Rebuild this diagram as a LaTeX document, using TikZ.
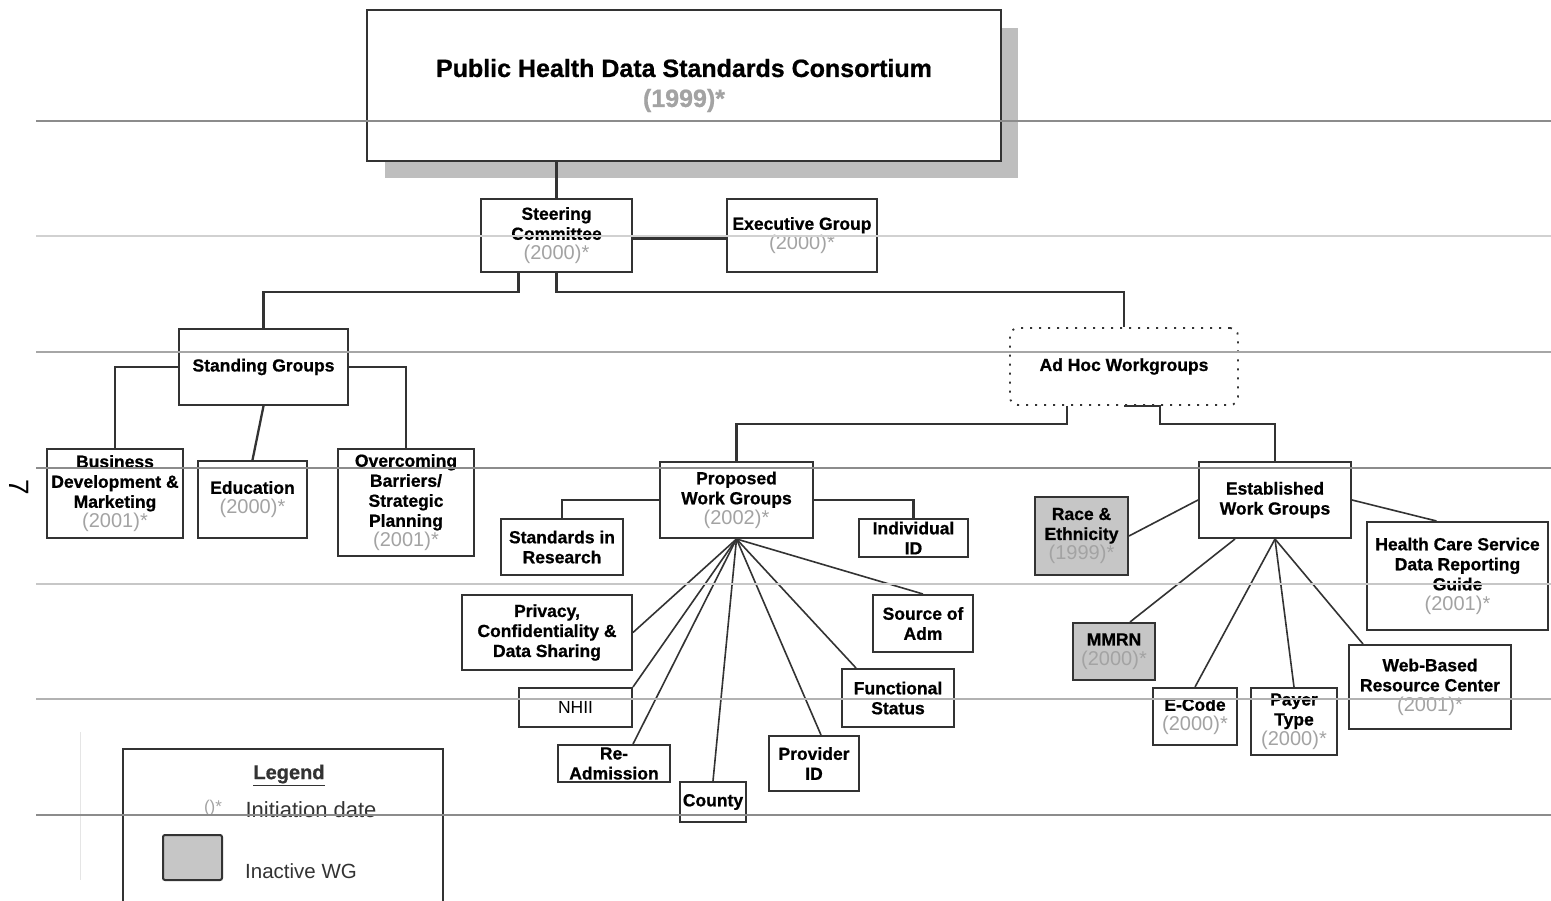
\documentclass[tikz,border=0pt]{standalone}
\usepackage{fontspec}
\setmainfont{Liberation Sans}[BoldFeatures={FakeBold=0.8}]
\usetikzlibrary{calc}
\definecolor{yrgray}{HTML}{A3A3A3}
\definecolor{linec}{HTML}{333333}
\definecolor{shadowgray}{HTML}{BEBEBE}
\definecolor{inact}{HTML}{C6C6C6}
\newcommand{\yr}[1]{{\mdseries\fontsize{20}{20}\selectfont\color{yrgray}#1}}
\tikzset{
  box/.style={draw=linec, line width=2pt, fill=white, inner sep=0pt, align=center,
    font=\fontsize{17.5}{20}\selectfont\bfseries},
  dim/.style 2 args={minimum width=#1pt, minimum height=#2pt},
  conn/.style={draw=linec, line width=2.3pt},
  fan/.style={draw=linec, line width=1.6pt},
  inactive/.style={fill=inact},
}
\begin{document}
\begin{tikzpicture}[x=1pt,y=-1pt]
\clip (0,0) rectangle (1551,901);
\fill[white] (0,0) rectangle (1551,901);

% title with shadow
\fill[shadowgray] (385,28) rectangle (1018,178);
\node[box, dim={634}{151}, font=\fontsize{25}{30}\selectfont\bfseries] (phdsc) at (684,85.5)
  {Public Health Data Standards Consortium\\\textcolor{yrgray}{(1999)*}};

\node[box, dim={151}{73}] (steer) at (556.5,235.5) {Steering\\Committee\\\yr{(2000)*}};
\node[box, dim={150}{73}] (exec) at (802,235.5) {Executive Group\\\yr{(2000)*}};

\node[box, dim={169}{76}] (stand) at (263.5,367) {Standing Groups};
\node[box, dim={228}{77}, dash pattern=on 2pt off 7pt, line width=1.8pt, rounded corners=8pt] (adhoc) at (1124,366.5) {Ad Hoc Workgroups};

\node[box, dim={136}{89}] (bus) at (115,493.5) {Business\\Development \&\\Marketing\\\yr{(2001)*}};
\node[box, dim={109}{77}] (edu) at (252.5,499.5) {Education\\\yr{(2000)*}};
\node[box, dim={136}{107}] (over) at (406,502.5) {Overcoming\\Barriers/\\Strategic\\Planning\\\yr{(2001)*}};

\node[box, dim={153}{76}] (prop) at (736.5,500) {Proposed\\Work Groups\\\yr{(2002)*}};
\node[box, dim={122}{56}] (sir) at (562,547) {Standards in\\Research};
\node[box, dim={109}{38}] (indiv) at (913.5,538) {Individual\\ID};
\node[box, dim={170}{75}] (priv) at (547,632.5) {Privacy,\\Confidentiality \&\\Data Sharing};
\node[box, dim={113}{39}, font=\fontsize{17.5}{20}\selectfont\mdseries] (nhii) at (575.5,707.5) {NHII};
\node[box, dim={112}{37}] (readm) at (614,763.5) {Re-\\Admission};
\node[box, dim={66}{40}] (county) at (713,802) {County};
\node[box, dim={90}{55}] (prov) at (814,763.5) {Provider\\ID};
\node[box, dim={112}{58}] (func) at (898,698) {Functional\\Status};
\node[box, dim={100}{57}] (src) at (923,623.5) {Source of\\Adm};

\node[box, dim={152}{76}] (est) at (1275,500) {Established\\Work Groups};
\node[box, inactive, dim={93}{78}] (race) at (1081.5,536) {Race \&\\Ethnicity\\\yr{(1999)*}};
\node[box, dim={181}{108}] (hcs) at (1457.5,576) {Health Care Service\\Data Reporting\\Guide\\\yr{(2001)*}};
\node[box, inactive, dim={82}{57}] (mmrn) at (1114,651.5) {MMRN\\\yr{(2000)*}};
\node[box, dim={84}{57}] (ecode) at (1195,716.5) {E-Code\\\yr{(2000)*}};
\node[box, dim={86}{67}] (payer) at (1294,721.5) {Payer\\Type\\\yr{(2000)*}};
\node[box, dim={162}{84}] (web) at (1430,687) {Web-Based\\Resource Center\\\yr{(2001)*}};

% connectors
\draw[conn] (phdsc.south -| steer.north) -- (steer.north);
\draw[conn, line width=3pt] ([yshift=-3pt]steer.east) -- ([yshift=-3pt]exec.west);
\draw[conn] ([xshift=-38pt]steer.south) -- ++(0,19) -| (stand.north);
\draw[conn] (steer.south) -- ++(0,19) -| (adhoc.north);
\draw[conn] (stand.west) -| (bus.north);
\draw[conn] (stand.south) -- (edu.north);
\draw[conn] (stand.east) -| (over.north);
\draw[conn] ([xshift=-57pt]adhoc.south) -- ++(0,18) -| (prop.north);
\draw[conn] (adhoc.south) -- ++(36,0) -- ++(0,18) -| (est.north);
\draw[conn] (prop.west) -| (sir.north);
\draw[conn] (prop.east) -| (indiv.north);
\draw[fan] (prop.south) -- (priv.east);
\draw[fan] (prop.south) -- (nhii.north east);
\draw[fan] (prop.south) -- ([xshift=19pt]readm.north);
\draw[fan] (prop.south) -- (county.north);
\draw[fan] (prop.south) -- ([xshift=7pt]prov.north);
\draw[fan] (prop.south) -- ([xshift=-42pt]func.north);
\draw[fan] (prop.south) -- (src.north);
\draw[fan] (est.west) -- (race.east);
\draw[fan] (est.east) -- ([xshift=-21pt]hcs.north);
\draw[fan] ([xshift=-40pt]est.south) -- ([xshift=16pt]mmrn.north);
\draw[fan] (est.south) -- (ecode.north);
\draw[fan] (est.south) -- (payer.north);
\draw[fan] (est.south) -- ([xshift=15pt]web.north west);

% legend
\node[draw=linec, line width=2pt, dim={320}{170}, inner sep=0pt] (legend) at (283,834) {};
\node[font=\fontsize{20}{20}\selectfont\bfseries, text=linec] (legtitle) at (289,775) {\underline{Legend}};
\node[font=\fontsize{17}{17}\selectfont, text=yrgray] (legsym) at (213,808) {()*};
\node[font=\fontsize{22}{22}\selectfont, text=linec] (legdate) at (311,810) {Initiation date};
\node[draw=linec, line width=2pt, fill=inact, rounded corners=2pt, dim={59}{45}, inner sep=0pt] (legsq) at (192.5,857.5) {};
\node[font=\fontsize{20.5}{20}\selectfont, text=linec] (legin) at (301,871) {Inactive WG};

% page number
\node[rotate=-90, font=\fontsize{28}{28}\selectfont] (pnum) at (19,487) {7};

% faint scan lines
\draw[black!10, line width=1pt] (80,732) -- (80,880);
\foreach \yy/\cc in {121/45, 236/18, 352/35, 468/45, 584/22, 699/30, 815/45}
  \draw[black!\cc, line width=1.2pt] (36,\yy) -- (1551,\yy);
\end{tikzpicture}
\end{document}
